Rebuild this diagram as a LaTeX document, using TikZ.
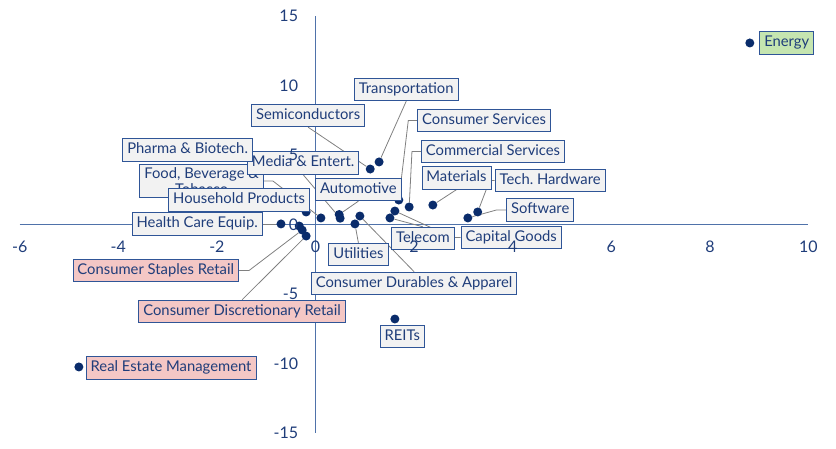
\documentclass[tikz,border=0pt]{standalone}
\usepackage{fontspec}
\setmainfont{Lato}
\usepackage{xcolor}
\usepackage{tikz}
\usetikzlibrary{calc}
\definecolor{ink}{HTML}{1F3D7A}
\definecolor{frame}{HTML}{2F5597}
\definecolor{axisc}{HTML}{4F72AA}
\definecolor{dotc}{HTML}{0A2C6B}
\definecolor{leadc}{HTML}{808080}
\definecolor{boxbg}{HTML}{F2F2F2}
\definecolor{redbg}{HTML}{F4C7C5}
\definecolor{greenbg}{HTML}{C5E5B0}
\pgfdeclarelayer{back}
\pgfsetlayers{back,main}
\frenchspacing
\tikzset{
  axisl/.style={draw=axisc, line width=1.2pt},
  lead/.style={draw=leadc, line width=0.8pt},
  dot/.style={circle, fill=dotc, inner sep=0pt, minimum size=9pt},
  labbase/.style={draw=frame, fill=boxbg, line width=0.9pt, text=ink, font=\fontsize{14.8}{15.5}\selectfont, inner xsep=4.5pt, inner ysep=4.5pt},
  lab/.style={labbase, text height=10.5pt, text depth=3pt},
  labred/.style={lab, fill=redbg},
  labgreen/.style={lab, fill=greenbg},
  ticklab/.style={text=ink, font=\fontsize{16}{19}\selectfont, inner sep=0pt},
}

\begin{document}
\begin{tikzpicture}[x=49.3pt, y=13.9pt]
  \useasboundingbox (-6.400,-16.151) rectangle (10.558,16.151);

  % points
  \node[dot] (d-energy) at (8.81,13.06) {};
  \node[dot] (d-trn)  at (1.29,4.50) {};
  \node[dot] (d-semi) at (1.11,3.99) {};
  \node[dot] (d-csv)  at (1.69,1.76) {};
  \node[dot] (d-cms)  at (1.90,1.26) {};
  \node[dot] (d-mat)  at (2.38,1.40) {};
  \node[dot] (d-thw)  at (3.29,0.90) {};
  \node[dot] (d-sw)   at (3.09,0.47) {};
  \node[dot] (d-cap)  at (1.61,0.97) {};
  \node[dot] (d-tel)  at (1.51,0.47) {};
  \node[dot] (d-aut)  at (0.48,0.72) {};
  \node[dot] (d-med)  at (0.50,0.45) {};
  \node[dot] (d-cdur) at (0.90,0.61) {};
  \node[dot] (d-utl)  at (0.80,0.04) {};
  \node[dot] (d-hh)   at (-0.19,0.90) {};
  \node[dot] (d-food) at (0.11,0.47) {};
  \node[dot] (d-hce)  at (-0.70,0.04) {};
  \node[dot] (d-pha)  at (-0.33,-0.11) {};
  \node[dot] (d-stp)  at (-0.27,-0.40) {};
  \node[dot] (d-dsc)  at (-0.19,-0.83) {};
  \node[dot] (d-reit) at (1.61,-6.80) {};
  \node[dot] (d-rem)  at (-4.80,-10.25) {};

  % labels
  \node[labgreen] (l-energy) at (9.56,13.06) {Energy};
  \node[lab] (l-trn)  at (1.84,9.71) {Transportation};
  \node[lab] (l-semi) at (-0.15,7.84) {Semiconductors};
  \node[lab] (l-csv)  at (3.42,7.48) {Consumer Services};
  \node[lab] (l-cms)  at (3.60,5.25) {Commercial Services};
  \node[lab] (l-mat)  at (2.86,3.35) {Materials};
  \node[lab] (l-thw)  at (4.76,3.17) {Tech. Hardware};
  \node[lab] (l-sw)   at (4.56,1.04) {Software};
  \node[lab] (l-cap)  at (3.97,-0.94) {Capital Goods};
  \node[lab] (l-tel)  at (2.18,-1.01) {Telecom};
  \node[labbase, align=center, inner ysep=3pt] (l-food) at (-2.31,3.13) {Food, Beverage \&\\Tobacco};
  \node[lab] (l-med)  at (-0.25,4.42) {Media \& Entert.};
  \node[lab, anchor=east] (l-pha) at (-1.27,5.36) {Pharma \& Biotech.};
  \node[lab] (l-aut)  at (0.87,2.52) {Automotive};
  \node[lab] (l-hh)   at (-1.55,1.76) {Household Products};
  \node[lab] (l-hce)  at (-2.40,0.04) {Health Care Equip.};
  \node[lab] (l-utl)  at (0.87,-2.16) {Utilities};
  \node[labred] (l-stp) at (-3.24,-3.31) {Consumer Staples Retail};
  \node[lab] (l-cdur) at (2.00,-4.24) {Consumer Durables \& Apparel};
  \node[labred] (l-dsc) at (-1.49,-6.26) {Consumer Discretionary Retail};
  \node[lab] (l-reit) at (1.76,-8.06) {REITs};
  \node[labred] (l-rem) at (-2.93,-10.32) {Real Estate Management};

  % stubs of the leaders
  \coordinate (s-csv)  at ($(l-csv.west)+(-9pt,0)$);
  \coordinate (s-cms)  at ($(l-cms.west)+(-9pt,0)$);
  \coordinate (s-thw)  at ($(l-thw.west)+(-5pt,0)$);
  \coordinate (s-sw)   at ($(l-sw.west)+(-10pt,0)$);
  \coordinate (s-cap)  at ($(l-cap.west)+(-8pt,0)$);
  \coordinate (s-food) at ($(l-food.east)+(9pt,0)$);
  \coordinate (s-stp)  at ($(l-stp.east)+(10pt,0)$);

  \begin{pgfonlayer}{back}
    \draw[axisl] (-6,0) -- (10,0);
    \draw[axisl] (0,-15) -- (0,15);

    \draw[lead] (l-trn.south) -- (d-trn);
    \draw[lead] (l-semi.south) -- (d-semi);
    \draw[lead] (l-csv.west) -- (s-csv) -- (d-csv);
    \draw[lead] (l-cms.west) -- (s-cms) -- (d-cms);
    \draw[lead] (l-mat.south) -- (d-mat);
    \draw[lead] (l-thw.west) -- (s-thw) -- (d-thw);
    \draw[lead] (l-sw.west) -- (s-sw) -- (d-sw);
    \draw[lead] (l-cap.west) -- (s-cap) -- (d-cap);
    \draw[lead] (l-tel.north) -- (d-tel);
    \draw[lead] (l-med.south) -- (d-med);
    \draw[lead] (l-aut.south) -- (d-aut);
    \draw[lead] (l-food.east) -- (s-food) -- (d-food);
    \draw[lead] (l-hce.east) -- (d-hce);
    \draw[lead] (l-utl.north) -- (d-utl);
    \draw[lead] (l-cdur.north) -- (d-cdur);
    \draw[lead] (l-stp.east) -- (s-stp) -- (d-stp);
    \draw[lead] (l-dsc.north) -- (d-dsc);
  \end{pgfonlayer}

  % axis numbers
  \foreach \v in {-6,-4,-2,0,2,4,6,8,10}
    \node[ticklab] (xt\v) at (\v,-1.62) {\v};
  \foreach \v in {-15,-10,-5,0,5,10,15}
    \node[ticklab, anchor=east] (yt\v) at (-0.35,\v) {\v};
\end{tikzpicture}
\end{document}
